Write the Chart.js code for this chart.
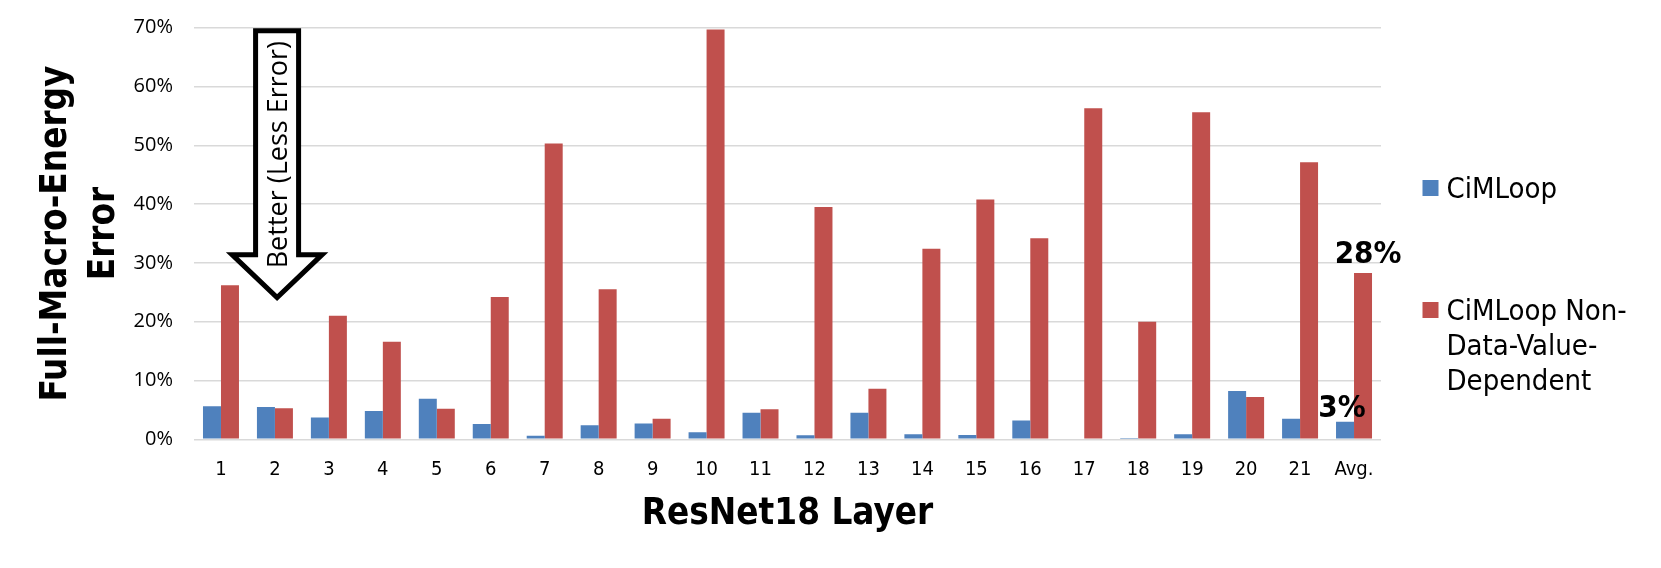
<!DOCTYPE html>
<html>
<head>
<meta charset="utf-8">
<script src="https://cdn.jsdelivr.net/npm/chart.js@4.4.1/dist/chart.umd.min.js"></script>
<style>
    html, body { margin: 0; padding: 0; background: #ffffff; }
    #wrap { width: 1661px; height: 568px; position: relative; }
</style>
</head>
<body>
<div id="wrap"><canvas id="chart" width="1661" height="568"></canvas></div>
<script>
const layers = ['1', '2', '3', '4', '5', '6', '7', '8', '9', '10', '11',
    '12', '13', '14', '15', '16', '17', '18', '19', '20', '21', 'Avg.']

// error in percent
const cimloop = [5.6, 5.5, 3.7, 4.8, 6.9, 2.6, 0.6, 2.4, 2.7, 1.2, 4.5,
    0.7, 4.5, 0.85, 0.75, 3.2, 0, 0.2, 0.85, 8.2, 3.5, 3.0]
const nonDataValue = [26.2, 5.3, 21.0, 16.6, 5.2, 24.2, 50.3, 25.5, 3.5, 69.7, 5.1,
    39.5, 8.6, 32.4, 40.8, 34.2, 56.3, 20.0, 55.6, 7.2, 47.1, 28.3]

const seriesNames = [['CiMLoop'], ['CiMLoop Non-', 'Data-Value-', 'Dependent']]
const yTicks = [0, 10, 20, 30, 40, 50, 60, 70]

const BLUE = '#4f81bd'
const RED = '#c0504d'
const GRID = '#d9d9d9'
const COND = '"DejaVu Sans Condensed", "DejaVu Sans", sans-serif'

// "Better (Less Error)" arrow, in axis units (category index, percent)
const arrow = { x: 1.04, top: 69.5, headStart: 31.4, tip: 24.1, text: 'Better (Less Error)' }

const arrowPlugin = {
    id: 'arrow',
    afterDatasetsDraw(chart) {
        const { ctx, scales } = chart
        const cx = scales.x.getPixelForValue(arrow.x)
        const yTop = scales.y.getPixelForValue(arrow.top)
        const yHead = scales.y.getPixelForValue(arrow.headStart)
        const yTip = scales.y.getPixelForValue(arrow.tip)
        const shaft = 21.5
        const head = 45
        ctx.save()
        ctx.beginPath()
        ctx.moveTo(cx - shaft, yTop)
        ctx.lineTo(cx + shaft, yTop)
        ctx.lineTo(cx + shaft, yHead)
        ctx.lineTo(cx + head, yHead)
        ctx.lineTo(cx, yTip)
        ctx.lineTo(cx - head, yHead)
        ctx.lineTo(cx - shaft, yHead)
        ctx.closePath()
        ctx.fillStyle = '#ffffff'
        ctx.fill()
        ctx.lineWidth = 5
        ctx.lineJoin = 'miter'
        ctx.strokeStyle = '#000000'
        ctx.stroke()

        ctx.translate(cx + 2, (yTop + yHead) / 2 + 12)
        ctx.rotate(-Math.PI / 2)
        ctx.font = '27px "Open Sans", sans-serif'
        ctx.fillStyle = '#000000'
        ctx.textAlign = 'center'
        ctx.textBaseline = 'middle'
        ctx.fillText(arrow.text, 0, 0)
        ctx.restore()
    }
}

const avgLabelPlugin = {
    id: 'avgLabels',
    afterDatasetsDraw(chart) {
        const { ctx } = chart
        const last = layers.length - 1
        const blueBar = chart.getDatasetMeta(0).data[last]
        const redBar = chart.getDatasetMeta(1).data[last]
        ctx.save()
        ctx.font = 'bold 31px ' + COND
        ctx.fillStyle = '#000000'
        ctx.textAlign = 'center'
        ctx.textBaseline = 'alphabetic'
        ctx.fillText(Math.round(nonDataValue[last]) + '%', redBar.x + 5, redBar.y - 10)
        ctx.fillText(Math.round(cimloop[last]) + '%', blueBar.x - 3, blueBar.y - 5)
        ctx.restore()
    }
}

const legendPlugin = {
    id: 'sideLegend',
    afterDraw(chart) {
        const { ctx, chartArea } = chart
        const sx = chartArea.right + 41.5
        const tx = chartArea.right + 65.5
        const firstBase = [198, 320]
        ctx.save()
        ctx.font = '29px ' + COND
        ctx.fillStyle = '#000000'
        ctx.textAlign = 'left'
        ctx.textBaseline = 'alphabetic'
        chart.data.datasets.forEach((ds, i) => {
            const base = firstBase[i]
            ctx.fillStyle = ds.backgroundColor
            ctx.fillRect(sx, base - 18, 16, 16)
            ctx.fillStyle = '#000000'
            seriesNames[i].forEach((line, j) => {
                ctx.fillText(line, tx, base + j * 35)
            })
        })
        ctx.restore()
    }
}

const ctx = document.getElementById('chart').getContext('2d')

new Chart(ctx, {
    type: 'bar',
    data: {
        labels: layers,
        datasets: [{
            label: seriesNames[0].join(' '),
            data: cimloop,
            backgroundColor: BLUE,
            borderWidth: 0,
            categoryPercentage: 0.667,
            barPercentage: 1.0
        }, {
            label: seriesNames[1].join(' '),
            data: nonDataValue,
            backgroundColor: RED,
            borderWidth: 0,
            categoryPercentage: 0.667,
            barPercentage: 1.0
        }]
    },
    plugins: [arrowPlugin, avgLabelPlugin, legendPlugin],
    options: {
        responsive: false,
        animation: false,
        devicePixelRatio: 1,
        layout: {
            padding: { top: 27.7, right: 280, bottom: 0, left: 0 }
        },
        plugins: {
            legend: { display: false },
            tooltip: { enabled: false }
        },
        scales: {
            x: {
                grid: { display: false, drawTicks: false },
                border: { display: false },
                ticks: {
                    color: '#000000',
                    padding: 18,
                    font: { family: COND, size: 20 },
                    maxRotation: 0,
                    autoSkip: false
                },
                title: {
                    display: true,
                    text: 'ResNet18 Layer',
                    color: '#000000',
                    font: { family: COND, size: 36.5, weight: 'bold' },
                    padding: { top: 0, bottom: 32 }
                },
                afterFit(scale) {
                    scale.height = 128.7
                    scale.paddingLeft = 0
                    scale.paddingRight = 0
                }
            },
            y: {
                min: 0,
                max: 70,
                afterBuildTicks(scale) {
                    scale.ticks = yTicks.map(v => ({ value: v }))
                },
                grid: { color: GRID, lineWidth: 1.5, drawTicks: false },
                border: { display: false },
                ticks: {
                    color: '#000000',
                    padding: 21,
                    font: { family: '"Open Sans", sans-serif', size: 20 },
                    callback: v => v + '%'
                },
                title: {
                    display: true,
                    text: ['Full-Macro-Energy', 'Error'],
                    color: '#000000',
                    font: { family: COND, size: 36.5, weight: 'bold', lineHeight: 1.315 },
                    padding: { top: 33, bottom: 0 }
                },
                afterFit(scale) {
                    scale.width = 194
                    scale.paddingTop = 0
                    scale.paddingBottom = 0
                }
            }
        }
    }
})
</script>
</body>
</html>
